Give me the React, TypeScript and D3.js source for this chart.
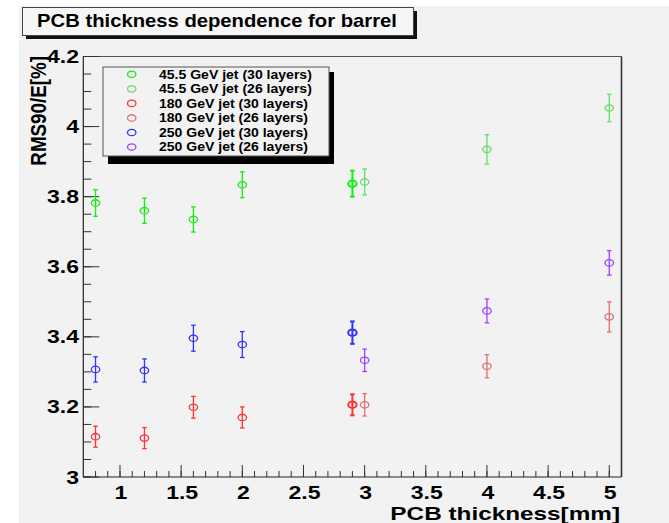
import React from "react";
import * as d3 from "d3";

// ---- data ----
const chartTitle = "PCB thickness dependence for barrel";
const xTitle = "PCB thickness[mm]";
const yTitle = "RMS90/E[%]";

const seriesNames = [
  "45.5 GeV jet (30 layers)",
  "45.5 GeV jet (26 layers)",
  "180 GeV jet (30 layers)",
  "180 GeV jet (26 layers)",
  "250 GeV jet (30 layers)",
  "250 GeV jet (26 layers)",
];
const seriesColors = ["#11ee11", "#66dd66", "#ff3333", "#e07070", "#3333ff", "#a040ff"];

const thickness30 = [0.8, 1.2, 1.6, 2.0, 2.9];
const thickness26 = [3.0, 4.0, 5.0];

const green30 = [3.782, 3.76, 3.735, 3.834, 3.837];
const green30Err = [0.038, 0.036, 0.036, 0.037, 0.037];
const green26 = [3.842, 3.935, 4.053];
const green26Err = [0.037, 0.042, 0.039];
const red30 = [3.115, 3.111, 3.199, 3.17, 3.206];
const red30Err = [0.03, 0.03, 0.031, 0.03, 0.03];
const red26 = [3.206, 3.316, 3.457];
const red26Err = [0.032, 0.033, 0.043];
const blue30 = [3.307, 3.304, 3.396, 3.378, 3.412];
const blue30Err = [0.036, 0.033, 0.037, 0.037, 0.032];
const purple26 = [3.333, 3.474, 3.611];
const purple26Err = [0.032, 0.034, 0.035];

const xMajorTicks = [1, 1.5, 2, 2.5, 3, 3.5, 4, 4.5, 5];
const xTickLabels = ["1", "1.5", "2", "2.5", "3", "3.5", "4", "4.5", "5"];
const yMajorTicks = [3, 3.2, 3.4, 3.6, 3.8, 4, 4.2];
const yTickLabels = ["3", "3.2", "3.4", "3.6", "3.8", "4", "4.2"];
const emphasized = 2.9;

const seriesData = [
  { x: thickness30, y: green30, e: green30Err },
  { x: thickness26, y: green26, e: green26Err },
  { x: thickness30, y: red30, e: red30Err },
  { x: thickness26, y: red26, e: red26Err },
  { x: thickness30, y: blue30, e: blue30Err },
  { x: thickness26, y: purple26, e: purple26Err },
];

const W = 669;
const H = 523;
const L = 83.3, R = 621.5, T = 56.5, B = 477;
const FONT = "'Liberation Sans', Arial, Helvetica, sans-serif";

function SText({ x, y, sx = 1.25, size, anchor = "start", children }: any) {
  return (
    <text
      transform={`translate(${x},${y}) scale(${sx},1)`}
      fontFamily={FONT}
      fontWeight="bold"
      fontSize={size}
      textAnchor={anchor}
      fill="#000"
    >
      {children}
    </text>
  );
}

export default function App() {
  const x = d3.scaleLinear().domain([0.7, 5.1]).range([L, R]);
  const y = d3.scaleLinear().domain([3, 4.2]).range([B, T]);

  const xMinor = d3.range(8, 52).map((v) => v / 10).filter((v) => v > 0.7 && v < 5.1);
  const yMinor = d3.range(60, 85).map((v) => v / 20);

  const legX = 103, legY = 67, legW = 226, legH = 89;
  const rowH = 14.55;

  return (
    <svg width={W} height={H} style={{ position: "absolute", left: 0, top: 0 }}>
      <rect x={0} y={0} width={W} height={H} fill="#ffffff" />
      <rect x={19} y={6} width={W - 19} height={H - 6} fill="#f2f2f2" />

      {/* title box */}
      <rect x={26} y={11} width={391} height={28} fill="#111" />
      <rect x={22.5} y={7.5} width={391} height={28} fill="#f6f6f6" stroke="#444" strokeWidth={1} />
      <SText x={217} y={27} size={18} sx={1.125} anchor="middle">{chartTitle}</SText>

      {/* frame */}
      <line x1={L} x2={R} y1={T} y2={T} stroke="#555" strokeWidth={1.2} />
      <line x1={R} x2={R} y1={T} y2={B} stroke="#333" strokeWidth={1.6} />

      {/* y axis ticks */}
      {yMinor.map((v, i) => (
        <line key={"ym" + i} x1={L} x2={L + 8} y1={y(v)} y2={y(v)} stroke="#333" strokeWidth={1} />
      ))}
      {yMajorTicks.map((v, i) => (
        <line key={"yM" + i} x1={L} x2={L + 16} y1={y(v)} y2={y(v)} stroke="#333" strokeWidth={1} />
      ))}
      {/* x axis ticks */}
      {xMinor.map((v, i) => (
        <line key={"xm" + i} x1={x(v)} x2={x(v)} y1={B} y2={B - 6} stroke="#333" strokeWidth={1} />
      ))}
      {xMajorTicks.map((v, i) => (
        <line key={"xM" + i} x1={x(v)} x2={x(v)} y1={B} y2={B - 12} stroke="#333" strokeWidth={1} />
      ))}
      <line x1={L} x2={L} y1={T} y2={B} stroke="#222" strokeWidth={1.2} />
      <line x1={L} x2={R} y1={B} y2={B} stroke="#222" strokeWidth={1.2} />

      {/* tick labels */}
      {yMajorTicks.map((v, i) => (
        <SText key={"yl" + i} x={79} y={y(v) + 6.5} size={18} sx={1.28} anchor="end">
          {yTickLabels[i]}
        </SText>
      ))}
      {xMajorTicks.map((v, i) => (
        <SText key={"xl" + i} x={x(v) + 1} y={498.5} size={18} sx={1.28} anchor="middle">
          {xTickLabels[i]}
        </SText>
      ))}

      {/* axis titles */}
      <SText x={620} y={520} size={19} sx={1.28} anchor="end">{xTitle}</SText>
      <text
        transform={`translate(46,56) scale(1.15,1) rotate(-90)`}
        fontFamily={FONT}
        fontWeight="bold"
        fontSize={18.8}
        textAnchor="end"
        fill="#000"
      >
        {yTitle}
      </text>

      {/* data */}
      {seriesData.map((s, si) => (
        <g key={"s" + si} stroke={seriesColors[si]} fill="none">
          {s.x.map((xv, i) => {
            const cx = x(xv);
            const cy = y(s.y[i]);
            const y1 = y(s.y[i] + s.e[i]);
            const y2 = y(s.y[i] - s.e[i]);
            const sw = xv === emphasized ? 2 : 1.3;
            return (
              <g key={i} strokeWidth={sw}>
                <line x1={cx} x2={cx} y1={y1} y2={y2} />
                <line x1={cx - 2.3} x2={cx + 2.3} y1={y1} y2={y1} />
                <line x1={cx - 2.3} x2={cx + 2.3} y1={y2} y2={y2} />
                <ellipse cx={cx} cy={cy} rx={4.2} ry={3.2} />
              </g>
            );
          })}
        </g>
      ))}

      {/* legend */}
      <rect x={legX + 5} y={legY + 5} width={legW} height={legH + 3} fill="#000" />
      <rect x={legX} y={legY} width={legW} height={legH} fill="#f2f2f2" stroke="#555" strokeWidth={1} />
      {seriesNames.map((n, i) => (
        <g key={"lg" + i}>
          <ellipse cx={131.7} cy={legY + 7.3 + i * rowH} rx={4.2} ry={3.2} fill="none" stroke={seriesColors[i]} strokeWidth={1.3} />
          <SText x={159} y={legY + 11.5 + i * rowH} size={12} sx={1.17}>{n}</SText>
        </g>
      ))}
    </svg>
  );
}
